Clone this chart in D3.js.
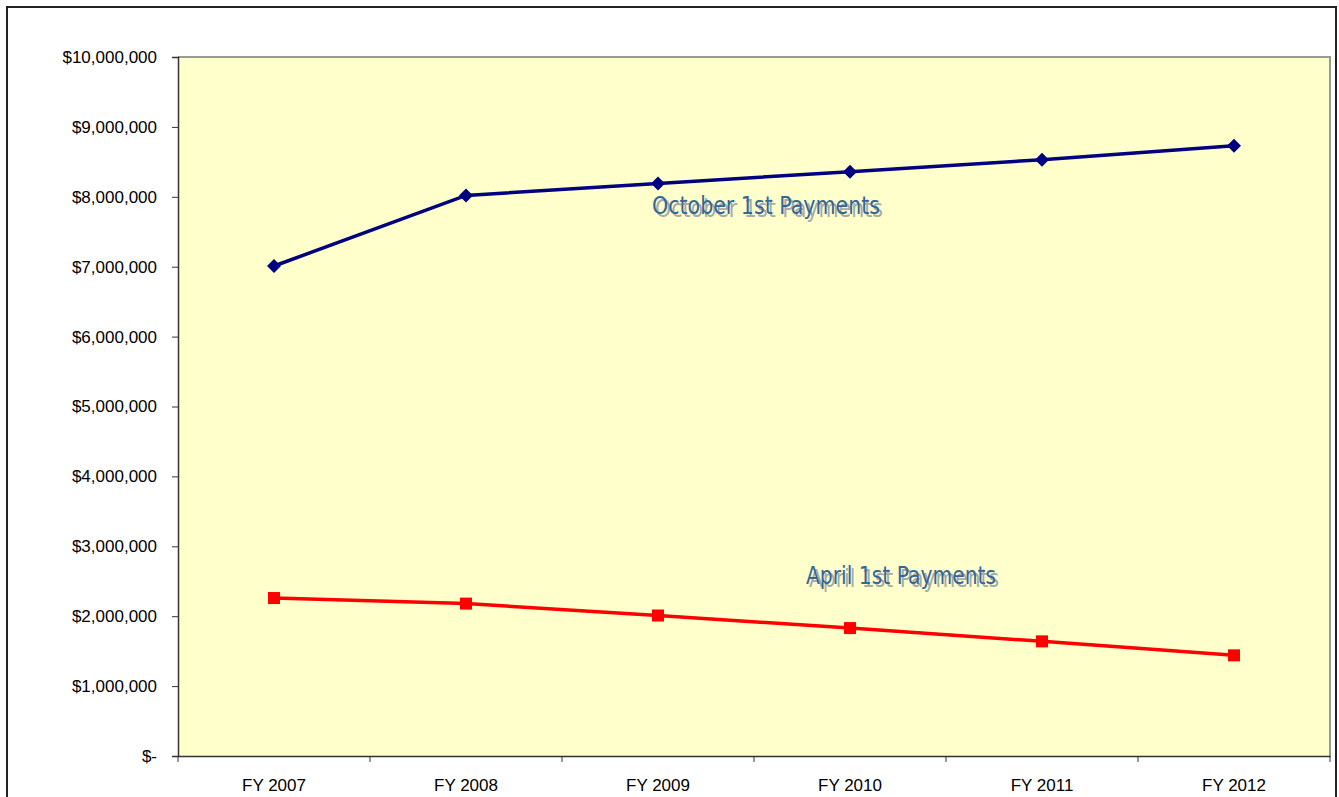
<!DOCTYPE html>
<html>
<head>
<meta charset="utf-8">
<script src="https://cdn.jsdelivr.net/npm/d3@7"></script>
<style>
	body { margin: 0; background: #fff; }
	svg { display: block; }
	.tick text { font-family: "Liberation Sans", Arial, sans-serif; font-size: 17px; fill: #000; }
</style>
</head>
<body>
<svg id="chart" width="1339" height="797"></svg>
<script>
const years = ['FY 2007', 'FY 2008', 'FY 2009', 'FY 2010', 'FY 2011', 'FY 2012']
const octoberPayments = [7010000, 8020000, 8190000, 8360000, 8530000, 8730000]
const aprilPayments = [2260000, 2180000, 2010000, 1830000, 1640000, 1440000]
const yTicks = [0, 1e6, 2e6, 3e6, 4e6, 5e6, 6e6, 7e6, 8e6, 9e6, 10e6]

const plot = { left: 178, top: 57, right: 1330, bottom: 756 }

const svg = d3.select('#chart')

// outer chart frame
svg.append('rect')
	.attr('x', 7).attr('y', 7)
	.attr('width', 1329).attr('height', 800)
	.attr('fill', '#fff')
	.attr('stroke', '#222')
	.attr('stroke-width', 2)

const x = d3.scaleBand()
	.domain(years)
	.range([plot.left, plot.right])

const y = d3.scaleLinear()
	.domain([0, 10e6])
	.range([plot.bottom, plot.top])

// plot background
svg.append('rect')
	.attr('x', plot.left).attr('y', plot.top)
	.attr('width', plot.right - plot.left)
	.attr('height', plot.bottom - plot.top)
	.attr('fill', '#ffffcc')

svg.append('path')
	.attr('d', `M${plot.left},${plot.top}H${plot.right}V${plot.bottom}`)
	.attr('fill', 'none')
	.attr('stroke', '#999')
	.attr('stroke-width', 2)

const fmt = (v) => v === 0 ? '$-' : '$' + d3.format(',')(v)

const yAxis = svg.append('g')
	.attr('transform', `translate(${plot.left},0)`)
	.call(d3.axisLeft(y).tickValues(yTicks).tickFormat(fmt).tickSizeOuter(0).tickSize(6).tickPadding(15))
yAxis.select('.domain').attr('stroke', '#333').attr('stroke-width', 1.5)
yAxis.selectAll('.tick line').attr('stroke', '#333')

// x ticks sit on category boundaries
const xAxis = svg.append('g')
	.attr('transform', `translate(0,${plot.bottom})`)
	.call(d3.axisBottom(x).tickSize(0).tickPadding(20))
xAxis.select('.domain').attr('stroke', '#333').attr('stroke-width', 1.5)
xAxis.selectAll('.tick text').attr('dy', '0.9em')

const bounds = years.map((d) => x(d)).concat([x(years[years.length - 1]) + x.bandwidth()])
xAxis.selectAll('.bound')
	.data(bounds)
	.enter().append('line')
		.attr('class', 'bound')
		.attr('x1', (d) => d).attr('x2', (d) => d)
		.attr('y1', 0).attr('y2', 6)
		.attr('stroke', '#333')

const cx = (i) => x(years[i]) + x.bandwidth() / 2

const line = d3.line()
	.x((d, i) => cx(i))
	.y((d) => y(d))

svg.append('path')
	.datum(octoberPayments)
	.attr('d', line)
	.attr('fill', 'none')
	.attr('stroke', '#000080')
	.attr('stroke-width', 3.5)

svg.append('path')
	.datum(aprilPayments)
	.attr('d', line)
	.attr('fill', 'none')
	.attr('stroke', '#ff0000')
	.attr('stroke-width', 3.5)

svg.selectAll('.diamond')
	.data(octoberPayments)
	.enter().append('path')
		.attr('class', 'diamond')
		.attr('d', d3.symbol(d3.symbolDiamond2, 125))
		.attr('transform', (d, i) => `translate(${cx(i)},${y(d)})`)
		.attr('fill', '#000080')

svg.selectAll('.square')
	.data(aprilPayments)
	.enter().append('rect')
		.attr('class', 'square')
		.attr('x', (d, i) => cx(i) - 6)
		.attr('y', (d) => y(d) - 6)
		.attr('width', 12).attr('height', 12)
		.attr('fill', '#ff0000')

const labels = [
	{ text: 'October 1st Payments', x: 652, y: 214, w: 228 },
	{ text: 'April 1st Payments', x: 806, y: 584, w: 190 }
]

labels.forEach((l) => {
	[[3, 3, '#aaaaaa'], [0, 0, '#336699']].forEach(([dx, dy, c]) => {
		svg.append('text')
			.attr('x', l.x + dx).attr('y', l.y + dy)
			.attr('font-family', '"DejaVu Sans", sans-serif')
			.attr('font-size', 24)
			.attr('textLength', l.w)
			.attr('lengthAdjust', 'spacingAndGlyphs')
			.attr('fill', c)
			.text(l.text)
	})
})
</script>
</body>
</html>
